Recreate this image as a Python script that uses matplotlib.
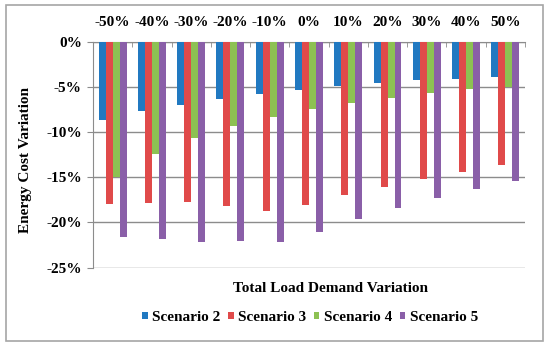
import numpy as np
import matplotlib
matplotlib.use('Agg')
import matplotlib.pyplot as plt
from matplotlib.patches import Rectangle
from matplotlib.ticker import FuncFormatter, FixedLocator

# Data
load_variation = ['-50%', '-40%', '-30%', '-20%', '-10%', '0%', '10%', '20%', '30%', '40%', '50%']
scenario_2 = [-8.7, -7.7, -7.0, -6.4, -5.8, -5.4, -4.9, -4.6, -4.3, -4.2, -3.9]
scenario_3 = [-18.0, -17.9, -17.8, -18.2, -18.7, -18.05, -17.0, -16.1, -15.2, -14.4, -13.7]
scenario_4 = [-15.0, -12.4, -10.7, -9.4, -8.3, -7.5, -6.8, -6.2, -5.7, -5.3, -5.0]
scenario_5 = [-21.6, -21.8, -22.2, -22.1, -22.2, -21.1, -19.6, -18.4, -17.3, -16.3, -15.4]

series = [('Scenario 2', scenario_2, '#2179C1'),
          ('Scenario 3', scenario_3, '#E04A4A'),
          ('Scenario 4', scenario_4, '#8DC153'),
          ('Scenario 5', scenario_5, '#8A5FA8')]

plt.rcParams['font.family'] = ['Liberation Serif', 'DejaVu Serif']
plt.rcParams['font.weight'] = 'bold'

fig = plt.figure(figsize=(5.5, 3.49), dpi=100)
ax = fig.add_axes([0.169, 0.2335, 0.7855, 0.6475])

x = np.arange(len(load_variation))
w = 0.178
for i, (name, vals, col) in enumerate(series):
    ax.bar(x + (i - 1.5) * w, vals, width=w, color=col, label=name, zorder=3)

ax.set_xlim(-0.5, len(load_variation) - 0.5)
ax.set_ylim(-25, 0)
ax.set_yticks(np.arange(-25, 1, 5))
ax.yaxis.set_major_formatter(FuncFormatter(lambda v, p: f'{int(round(v))}%'))
ax.grid(axis='y', color='#8c8c8c', linewidth=1.0, zorder=0)

# category labels on top, ticks between groups
ax.xaxis.tick_top()
ax.set_xticks(x)
ax.set_xticklabels(load_variation)
ax.xaxis.set_minor_locator(FixedLocator(np.arange(-0.5, len(load_variation), 1)))
ax.tick_params(axis='x', which='major', length=0, pad=9, labelsize=11)
ax.tick_params(axis='x', which='minor', length=3.5, direction='in', color='#8c8c8c', top=True, bottom=False)
ax.tick_params(axis='y', length=4, color='#8c8c8c', labelsize=11, pad=4)

for s in ['right', 'bottom']:
    ax.spines[s].set_visible(False)
for s in ['left', 'top']:
    ax.spines[s].set_color('#8c8c8c')

fig.text(0.046, 0.5415, 'Energy Cost Variation', rotation=90, ha='center', va='center',
         fontsize=11, fontweight='bold')
fig.text(0.601, 0.172, 'Total Load Demand Variation', ha='center', va='center',
         fontsize=11, fontweight='bold')

ax.legend(loc='center', bbox_to_anchor=(0.564, 0.09), bbox_transform=fig.transFigure,
          ncol=4, frameon=False, fontsize=11, handlelength=0.35, handleheight=0.35,
          handletextpad=0.3, columnspacing=0.5)

fig.patches.append(Rectangle((0.011, 0.023), 0.977, 0.963, transform=fig.transFigure,
                             fill=False, edgecolor='#a6a6a6', linewidth=1.2))

fig.savefig('out.png', dpi=100)
